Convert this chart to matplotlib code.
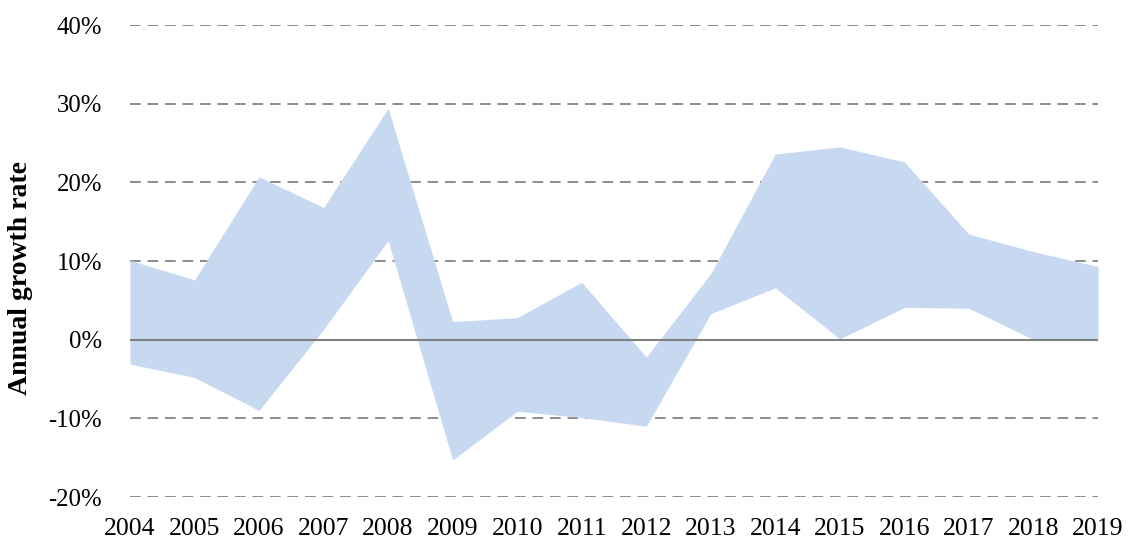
import matplotlib
matplotlib.use("Agg")
import matplotlib.pyplot as plt
from matplotlib.ticker import PercentFormatter

plt.rcParams["font.family"] = ["Liberation Serif", "DejaVu Serif"]
plt.rcParams["axes.unicode_minus"] = False  # 使用普通连字符

# 数据
years = list(range(2004, 2020))
upper = [10.1, 7.6, 20.7, 16.8, 29.4, 2.3, 2.8, 7.3, -2.2, 8.4, 23.6, 24.5, 22.6, 13.4, 11.2, 9.3]
lower = [-3.1, -4.8, -9.0, 1.3, 12.6, -15.3, -9.1, -9.9, -11.0, 3.3, 6.6, 0.1, 4.1, 4.0, 0.0, 0.0]
yticks = [-20, -10, 0, 10, 20, 30, 40]

fig = plt.figure(figsize=(11.33, 5.4), dpi=100)
ax = fig.add_axes([0.1147, 0.0796, 0.8544, 0.8741])

# 网格线
for t in yticks:
    if t == 0:
        continue
    ax.axhline(t, color="#8c8c8c", linewidth=1.4, linestyle=(0, (5.5, 3.5)), zorder=1)

ax.fill_between(years, lower, upper, color="#c7d9f0", linewidth=0, zorder=2)
ax.axhline(0, color="#808080", linewidth=1.5, zorder=3)

ax.set_xlim(years[0], years[-1])
ax.set_ylim(-20, 40)
ax.set_yticks(yticks)
ax.yaxis.set_major_formatter(PercentFormatter(decimals=0))
ax.set_xticks(years)
ax.set_xticklabels([str(y) for y in years])

ax.tick_params(axis="y", length=0, pad=20, labelsize=17.8)
ax.tick_params(axis="x", length=0, pad=15, labelsize=18.5)
for s in ax.spines.values():
    s.set_visible(False)

ax.set_ylabel("Annual growth rate", fontsize=20, fontweight="bold", labelpad=11)
ax.yaxis.label.set_y(0.465)

plt.savefig("out.png", dpi=100)
